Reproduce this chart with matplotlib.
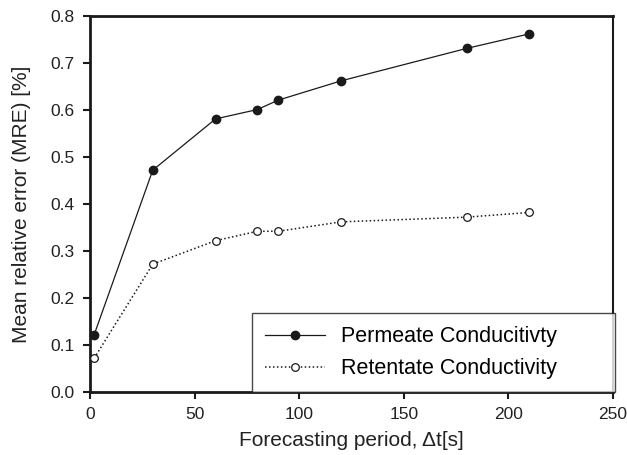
import matplotlib
matplotlib.use("Agg")
import matplotlib.pyplot as plt


plt.rcParams["font.family"] = ["Liberation Sans", "DejaVu Sans"]

# 预测时间间隔 [s]
periods = [2, 30, 60, 80, 90, 120, 180, 210]
# 平均相对误差 [%]
permeate_mre = [0.122, 0.472, 0.581, 0.601, 0.621, 0.662, 0.731, 0.762]
retentate_mre = [0.072, 0.272, 0.322, 0.342, 0.342, 0.362, 0.372, 0.382]

x_ticks = [0, 50, 100, 150, 200, 250]
y_ticks = [0.0, 0.1, 0.2, 0.3, 0.4, 0.5, 0.6, 0.7, 0.8]


def main():
    fig = plt.figure(figsize=(6.27, 4.55), dpi=100)
    ax = fig.add_axes([90 / 627, 1 - 392 / 455, 523 / 627, 376 / 455])

    ax.plot(periods, permeate_mre, color="#1a1a1a", linewidth=0.9,
            marker="o", markersize=6, markerfacecolor="#1a1a1a",
            markeredgecolor="#1a1a1a", label="Permeate Conducitivty",
            clip_on=False, zorder=3)
    ax.plot(periods, retentate_mre, color="#1a1a1a", linewidth=1.1,
            linestyle=(0, (1, 1.6)), marker="o", markersize=5.5,
            markerfacecolor="white", markeredgecolor="#1a1a1a",
            markeredgewidth=0.9, label="Retentate Conductivity",
            clip_on=False, zorder=3)

    ax.set_xlim(0, 250)
    ax.set_ylim(0, 0.8)
    ax.set_xticks(x_ticks)
    ax.set_yticks(y_ticks)
    ax.set_yticklabels([f"{v:.1f}" for v in y_ticks])
    ax.tick_params(axis="both", direction="out", length=5, width=1.5,
                   labelsize=12.5, color="#1a1a1a", labelcolor="#222222",
                   top=False, right=False)
    ax.tick_params(axis="x", pad=6)
    ax.tick_params(axis="y", pad=6)

    for side in ["left", "bottom", "top"]:
        ax.spines[side].set_linewidth(2)
        ax.spines[side].set_color("#1a1a1a")
    ax.spines["right"].set_linewidth(1.5)
    ax.spines["right"].set_color("#1a1a1a")

    ax.set_xlabel("Forecasting period, \u0394t[s]", fontsize=15,
                  color="#222222", labelpad=6)
    ax.set_ylabel("Mean relative error (MRE) [%]", fontsize=15,
                  color="#222222", labelpad=14)

    leg = ax.legend(loc="lower left", bbox_to_anchor=(0.31, 0.0, 0.694, 0.22),
                    mode="expand", fontsize=15.5, frameon=True,
                    fancybox=False, borderaxespad=0, handlelength=2.8,
                    handletextpad=0.75, borderpad=0.6, labelspacing=0.5)
    leg.get_frame().set_edgecolor("#1a1a1a")
    leg.get_frame().set_linewidth(1.0)
    leg.set_zorder(5)

    fig.savefig("out.png", dpi=100)
    plt.close(fig)


if __name__ == "__main__":
    main()
